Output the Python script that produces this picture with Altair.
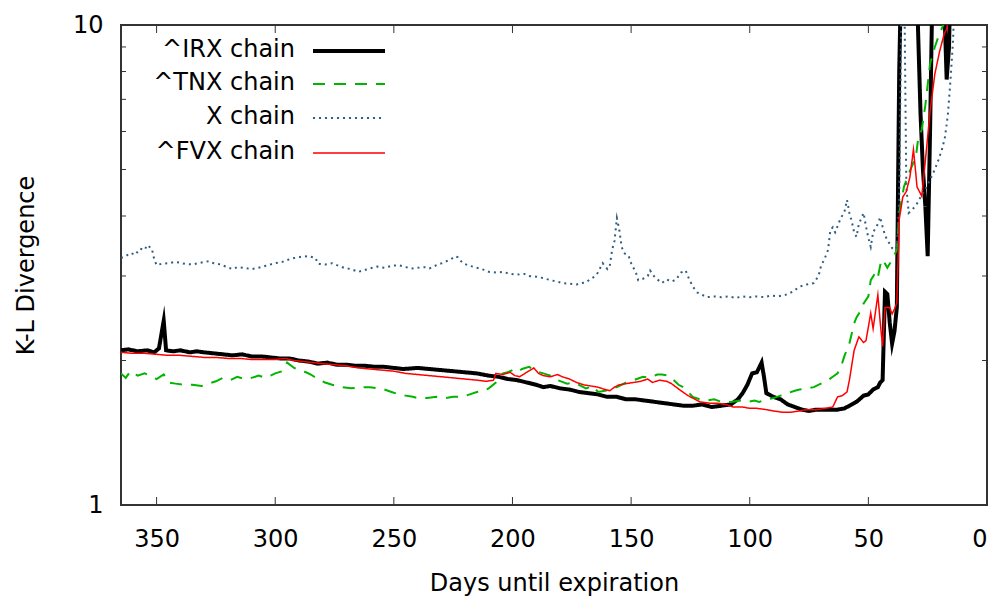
import altair as alt
import pandas as pd

FONT = "DejaVu Sans"

# (days until expiration, K-L divergence)
IRX = [(365, 2.10), (362, 2.11), (358, 2.09), (354, 2.10), (351, 2.08), (349, 2.12), (347, 2.42),
       (346, 2.10), (343, 2.09), (340, 2.10), (336, 2.08), (333, 2.09), (330, 2.08), (326, 2.07),
       (322, 2.06), (318, 2.05), (314, 2.06), (310, 2.04), (306, 2.04), (302, 2.03), (298, 2.02),
       (294, 2.02), (290, 2.00), (286, 1.99), (282, 1.97), (278, 1.98), (274, 1.96), (270, 1.96),
       (266, 1.95), (262, 1.95), (258, 1.94), (254, 1.94), (250, 1.93), (246, 1.92), (240, 1.93),
       (235, 1.92), (230, 1.91), (225, 1.90), (220, 1.89), (215, 1.88), (210, 1.86), (206, 1.85),
       (202, 1.83), (198, 1.82), (194, 1.80), (190, 1.78), (187, 1.76), (184, 1.77), (180, 1.75),
       (176, 1.74), (172, 1.72), (168, 1.71), (164, 1.70), (160, 1.68), (156, 1.68), (152, 1.66),
       (148, 1.66), (144, 1.65), (140, 1.64), (136, 1.63), (132, 1.62), (128, 1.61), (124, 1.61),
       (120, 1.62), (116, 1.60), (112, 1.61), (108, 1.62), (105, 1.66), (103, 1.71), (101, 1.78),
       (99, 1.88), (97, 1.89), (95, 1.98), (94, 1.85), (93, 1.71), (90, 1.68), (87, 1.66),
       (84, 1.62), (81, 1.60), (78, 1.58), (75, 1.57), (72, 1.58), (69, 1.58), (66, 1.58),
       (63, 1.58), (60, 1.59), (58, 1.61), (55, 1.64), (52, 1.69), (50, 1.70), (48, 1.74),
       (46, 1.76), (45, 1.80), (44, 1.82), (43, 2.78), (42, 2.75), (41, 2.40), (40, 2.17),
       (39, 2.30), (38, 2.58), (37, 8.0), (36, 14.0), (34, 18.0), (32, 16.0), (30, 14.0),
       (28, 6.5), (27, 5.0), (26, 4.2), (25, 3.3), (24, 6.0), (23, 12.0), (21, 15.0), (19, 14.0),
       (18, 11.0), (17, 7.7), (16, 9.0), (15.5, 12.0), (15, 13.0)]

TNX = [(365, 1.88), (363, 1.84), (361, 1.90), (358, 1.86), (355, 1.88), (352, 1.85), (350, 1.83),
       (347, 1.87), (345, 1.80), (342, 1.79), (338, 1.78), (335, 1.78), (331, 1.77), (328, 1.79),
       (325, 1.81), (322, 1.84), (319, 1.82), (316, 1.85), (313, 1.83), (310, 1.84), (307, 1.86),
       (304, 1.84), (300, 1.88), (297, 1.90), (295, 1.98), (292, 1.93), (290, 1.91), (287, 1.89),
       (285, 1.87), (282, 1.83), (279, 1.80), (276, 1.78), (272, 1.76), (268, 1.75), (264, 1.76),
       (260, 1.76), (257, 1.75), (254, 1.74), (251, 1.72), (248, 1.70), (245, 1.69), (242, 1.68),
       (240, 1.67), (236, 1.67), (232, 1.68), (228, 1.67), (225, 1.68), (221, 1.68), (218, 1.70),
       (215, 1.72), (212, 1.73), (210, 1.75), (207, 1.80), (204, 1.88), (202, 1.89), (200, 1.91),
       (198, 1.89), (196, 1.92), (193, 1.94), (190, 1.90), (187, 1.88), (184, 1.86), (181, 1.82),
       (177, 1.79), (174, 1.80), (172, 1.78), (169, 1.75), (166, 1.77), (164, 1.72), (161, 1.73),
       (159, 1.74), (156, 1.76), (152, 1.80), (149, 1.82), (145, 1.85), (142, 1.84), (139, 1.87),
       (137, 1.87), (134, 1.86), (132, 1.82), (130, 1.78), (128, 1.76), (126, 1.72), (124, 1.68),
       (121, 1.66), (118, 1.65), (115, 1.66), (112, 1.64), (108, 1.64), (104, 1.65), (101, 1.64),
       (98, 1.65), (96, 1.64), (93, 1.66), (90, 1.67), (87, 1.69), (84, 1.71), (81, 1.73),
       (79, 1.74), (76, 1.75), (73, 1.76), (70, 1.79), (67, 1.82), (65, 1.85), (63, 1.88),
       (61, 1.98), (60, 2.05), (58, 2.17), (56, 2.39), (55, 2.46), (53, 2.55), (52, 2.63),
       (50, 2.72), (49, 2.94), (47, 3.05), (46, 2.98), (45, 3.16), (44, 3.25), (42, 3.12),
       (41, 3.18), (40, 3.24), (38, 3.40), (37, 4.06), (35, 4.6), (33, 4.9), (30, 5.3), (29, 5.8),
       (27.5, 6.05), (26, 6.8), (24, 8.3), (22, 9.0), (20, 9.6), (18, 10.1), (16, 11.0)]

XCH = [(365, 3.27), (363, 3.30), (361, 3.35), (359, 3.32), (357, 3.42), (355, 3.40), (354, 3.48),
       (352, 3.42), (351, 3.25), (350, 3.16), (348, 3.18), (345, 3.19), (342, 3.21), (338, 3.18),
       (335, 3.17), (331, 3.20), (328, 3.22), (326, 3.19), (323, 3.17), (321, 3.14), (318, 3.10),
       (316, 3.13), (313, 3.12), (310, 3.10), (307, 3.12), (304, 3.15), (300, 3.19), (297, 3.21),
       (294, 3.25), (292, 3.27), (289, 3.29), (286, 3.30), (283, 3.27), (282, 3.18), (279, 3.17),
       (276, 3.19), (274, 3.16), (271, 3.12), (268, 3.10), (265, 3.06), (262, 3.09), (259, 3.12),
       (257, 3.14), (254, 3.12), (251, 3.15), (248, 3.16), (245, 3.13), (242, 3.11), (240, 3.12),
       (237, 3.13), (235, 3.11), (232, 3.16), (229, 3.20), (226, 3.25), (224, 3.30), (223, 3.28),
       (221, 3.19), (218, 3.15), (215, 3.12), (212, 3.09), (210, 3.06), (207, 3.05), (204, 3.06),
       (201, 3.03), (198, 3.02), (195, 3.03), (193, 3.00), (190, 2.99), (187, 2.97), (184, 2.94),
       (181, 2.92), (179, 2.90), (176, 2.89), (173, 2.88), (171, 2.90), (169, 2.91), (167, 2.96),
       (165, 3.00), (164, 3.05), (162, 3.19), (160, 3.10), (159, 3.15), (158, 3.40), (157, 3.55),
       (156, 3.96), (155, 3.75), (154, 3.45), (153, 3.35), (151, 3.30), (150, 3.19), (148, 3.05),
       (147, 2.94), (145, 2.96), (143, 3.00), (142, 3.08), (140, 2.98), (137, 2.90), (135, 2.95),
       (133, 2.92), (131, 2.95), (129, 3.05), (127, 3.08), (126, 2.99), (124, 2.85), (122, 2.77),
       (120, 2.74), (118, 2.71), (115, 2.72), (112, 2.71), (109, 2.72), (106, 2.70), (103, 2.72),
       (100, 2.71), (97, 2.72), (94, 2.71), (91, 2.73), (88, 2.72), (85, 2.74), (82, 2.78),
       (79, 2.85), (76, 2.88), (73, 2.90), (71, 3.00), (70, 3.14), (68, 3.30), (67, 3.40),
       (66, 3.74), (65, 3.79), (64, 3.70), (62, 3.92), (60, 4.10), (59, 4.32), (58, 4.06),
       (57, 3.90), (56, 3.70), (55, 3.62), (54, 3.85), (52, 4.06), (51, 3.80), (50, 3.60),
       (49, 3.45), (48, 3.70), (46, 3.85), (45, 3.98), (44, 3.80), (43, 3.65), (42, 3.56),
       (41, 3.50), (40, 3.43), (39, 3.40), (38, 3.45), (37, 4.32), (36, 12.0), (35, 14.0),
       (34, 4.6), (33, 4.06), (30, 4.20), (28, 4.38), (26, 4.55), (24, 4.76), (22, 5.0),
       (20.5, 5.23), (19, 5.5), (17.7, 5.84), (16.5, 6.5), (15.6, 7.42), (14.8, 8.5),
       (14.3, 9.3), (14, 10.2)]

FVX = [(365, 2.08), (360, 2.07), (355, 2.07), (350, 2.06), (345, 2.05), (340, 2.05), (335, 2.04),
       (330, 2.03), (325, 2.03), (320, 2.02), (315, 2.02), (310, 2.01), (305, 2.01), (300, 2.01),
       (296, 2.02), (292, 2.00), (288, 1.99), (284, 1.98), (280, 1.97), (275, 1.96), (270, 1.95),
       (265, 1.93), (260, 1.92), (255, 1.91), (250, 1.90), (245, 1.88), (240, 1.87), (235, 1.86),
       (230, 1.85), (225, 1.84), (220, 1.83), (215, 1.82), (211, 1.81), (208, 1.82), (207, 1.88),
       (204, 1.87), (201, 1.89), (199, 1.86), (197, 1.85), (194, 1.89), (191, 1.93), (189, 1.88),
       (187, 1.86), (184, 1.85), (181, 1.87), (179, 1.85), (176, 1.83), (173, 1.80), (170, 1.78),
       (167, 1.77), (164, 1.76), (161, 1.74), (159, 1.73), (157, 1.76), (155, 1.78), (152, 1.79),
       (149, 1.80), (146, 1.81), (143, 1.83), (141, 1.80), (138, 1.82), (135, 1.81), (133, 1.79),
       (131, 1.76), (129, 1.73), (126, 1.69), (123, 1.66), (121, 1.64), (117, 1.63), (114, 1.63),
       (110, 1.62), (107, 1.60), (103, 1.60), (100, 1.59), (97, 1.59), (93, 1.58), (90, 1.57),
       (86, 1.56), (83, 1.56), (79, 1.57), (76, 1.58), (72, 1.58), (68, 1.59), (65, 1.60),
       (63, 1.68), (61, 1.69), (59, 1.72), (58, 1.82), (56, 2.10), (54, 2.24), (52, 2.18),
       (51, 2.20), (49, 2.51), (48, 2.33), (46, 2.74), (45, 2.40), (44, 2.14), (43, 2.58),
       (41, 2.58), (40, 2.50), (39, 2.56), (38, 2.64), (37, 3.93), (35.5, 4.38), (34, 4.50),
       (32.5, 4.82), (31, 5.5), (30, 4.9), (29.5, 4.6), (28.5, 4.5), (27.5, 4.4), (26, 5.2),
       (24, 6.6), (22, 7.9), (20, 8.8), (18, 9.6), (17, 9.8), (15.5, 11.0)]

SERIES = ["^IRX chain", "^TNX chain", "X chain", "^FVX chain"]
COLORS = ["#000000", "#00b400", "#2f5d80", "#ff0000"]
WIDTHS = [4, 2, 2, 1.5]
DASHES = [[1, 0], [12, 9], [2, 4], [1, 0]]

X_TICKS = [0, 50, 100, 150, 200, 250, 300, 350]
Y_MINOR = [2, 3, 4, 5, 6, 7, 8, 9]

W, H = 866, 480

x_scale = alt.Scale(domain=[0, 365], reverse=True, nice=False)
y_scale = alt.Scale(type="log", domain=[1, 10], nice=False)

common = dict(grid=False, ticks=False, domain=False, labelFont=FONT, titleFont=FONT,
              labelFontSize=24, titleFontSize=24, labelColor="black", titleColor="black",
              titleFontWeight="normal", format="d")
x_axis = alt.Axis(values=X_TICKS, title="Days until expiration", labelPadding=22,
                  titlePadding=20, **common)
y_axis = alt.Axis(values=[1, 10], title="K-L Divergence", labelPadding=18,
                  titlePadding=34, **common)

layers = []
for name, pts, col, w, d in zip(SERIES, [IRX, TNX, XCH, FVX], COLORS, WIDTHS, DASHES):
    df = pd.DataFrame(pts, columns=["day", "kl"])
    layers.append(
        alt.Chart(df).mark_line(clip=True, color=col, strokeWidth=w, strokeDash=d,
                                strokeJoin="miter", strokeMiterLimit=10)
        .encode(x=alt.X("day:Q", scale=x_scale, axis=x_axis),
                y=alt.Y("kl:Q", scale=y_scale, axis=y_axis),
                order=alt.Order("idx:Q"))
        .transform_window(idx="row_number()")
    )

xt = pd.DataFrame({"day": X_TICKS})
yt = pd.DataFrame({"kl": Y_MINOR})
tick_col = "#333333"
ticks = [
    alt.Chart(xt).mark_rule(color=tick_col, strokeWidth=1).encode(
        x=alt.X("day:Q", scale=x_scale, axis=x_axis), y=alt.value(0), y2=alt.value(8)),
    alt.Chart(xt).mark_rule(color=tick_col, strokeWidth=1).encode(
        x=alt.X("day:Q", scale=x_scale, axis=x_axis), y=alt.value(H), y2=alt.value(H - 8)),
    alt.Chart(yt).mark_rule(color=tick_col, strokeWidth=1).encode(
        y=alt.Y("kl:Q", scale=y_scale, axis=y_axis), x=alt.value(0), x2=alt.value(5)),
    alt.Chart(yt).mark_rule(color=tick_col, strokeWidth=1).encode(
        y=alt.Y("kl:Q", scale=y_scale, axis=y_axis), x=alt.value(W), x2=alt.value(W - 5)),
]

# legend (top-left inside the plot)
legend = []
leg_y = [25, 58, 92, 127]
for name, col, w, d, ly in zip(SERIES, COLORS, WIDTHS, DASHES, leg_y):
    ldf = pd.DataFrame({"label": [name]})
    legend.append(
        alt.Chart(ldf).mark_text(align="right", baseline="middle", font=FONT, fontSize=24,
                                 color="black")
        .encode(text="label:N", x=alt.value(174), y=alt.value(ly))
    )
    legend.append(
        alt.Chart(ldf).mark_rule(color=col, strokeWidth=w, strokeDash=d)
        .encode(x=alt.value(192), x2=alt.value(264), y=alt.value(ly + 1))
    )

chart = alt.layer(*ticks, *layers, *legend).properties(
    width=W, height=H,
    background="white",
    autosize=alt.AutoSizeParams(type="none"),
    padding={"left": 113, "top": 17, "right": 5, "bottom": 96},
).configure_view(stroke="#333333", strokeWidth=2)

chart.save("out.html", embed_options={"renderer": "svg", "actions": False})
